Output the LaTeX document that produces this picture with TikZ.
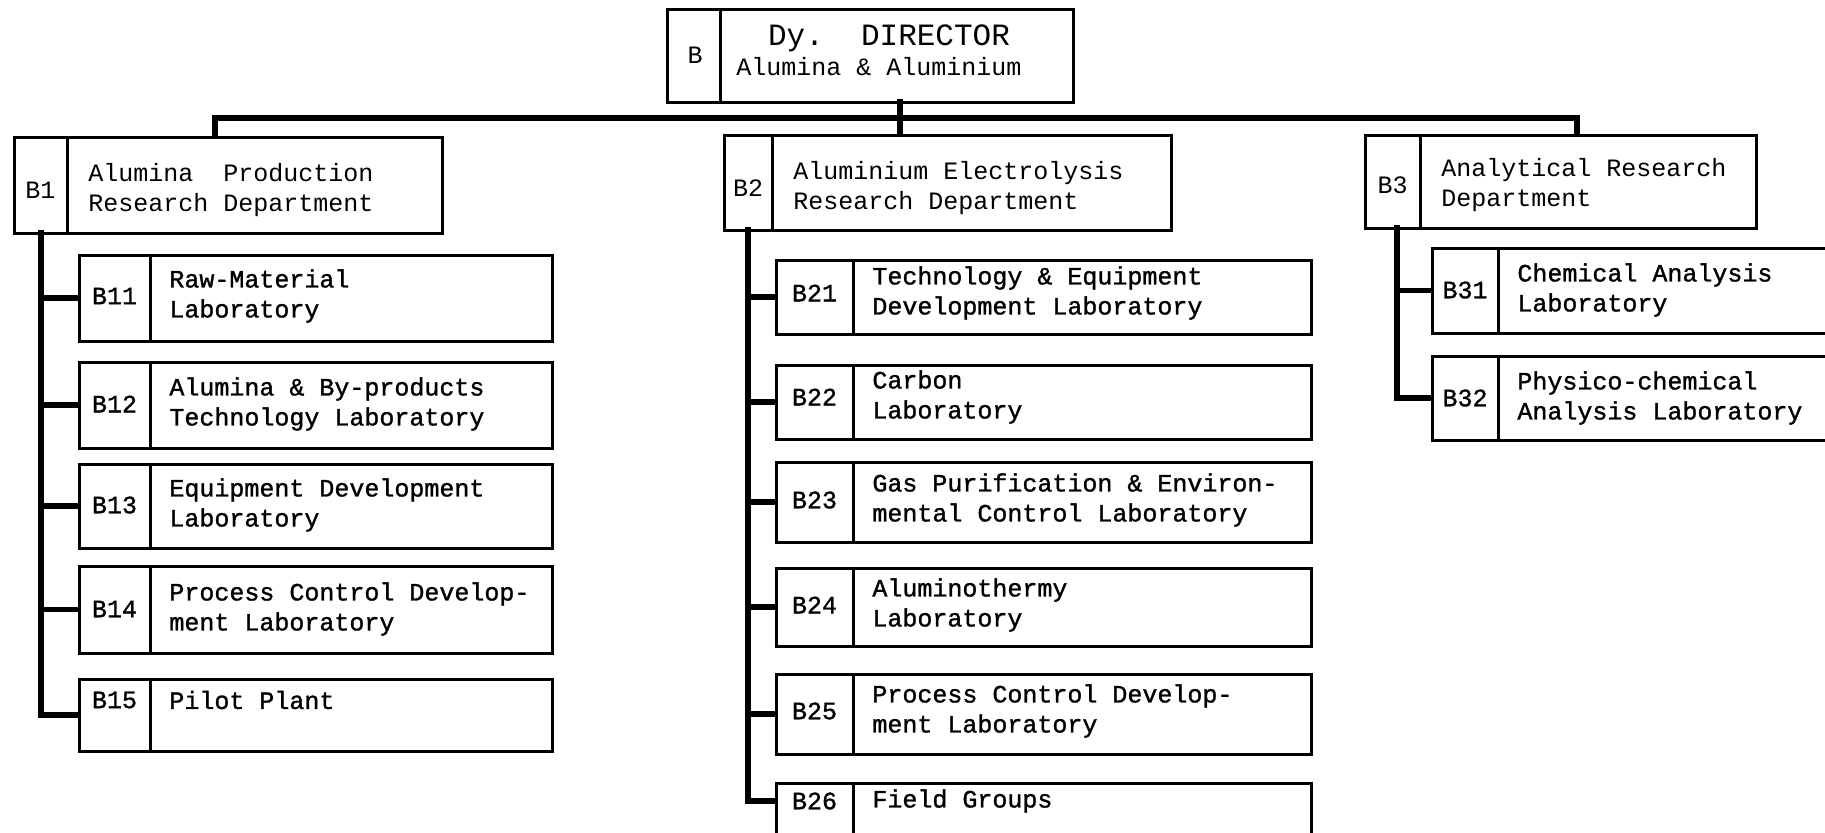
\documentclass[tikz,border=0pt]{standalone}
\usepackage{fontspec}
\setmonofont{Liberation Mono}
\newfontfamily\labfont[FakeBold=1.2]{Liberation Mono}
\usetikzlibrary{fit}
\tikzset{
  boxst/.style={draw, line width=1.5pt, inner sep=0pt, fill=white},
  divline/.style={line width=1.5pt},
  conn/.style={line width=2.6pt, line cap=rect},
  lab/.style={font=\labfont\fontsize{12.5}{15}\selectfont, inner sep=0pt},
  txt/.style={font=\labfont\fontsize{12.5}{15}\selectfont, inner sep=0pt, align=left, anchor=west},
  toptxt/.style={font=\ttfamily\fontsize{12.5}{15}\selectfont, inner sep=0pt},
}
% #1 name, #2 x1, #3 y1, #4 x2, #5 y2, #6 xdiv, #7 label, #8 text, #9 text row y
\newcommand\orgbox[9]{%
  \node[boxst, fit={(#2,#3)(#4,#5)}] (#1) {};
  \draw[divline] (#6,#3) -- (#6,#5);
  \node[lab] (#1l) at ({(#2+#6)/2},#9) {#7};
  \node[txt] (#1t) at ({#6+19},#9) {#8};
}
\newcommand\deptbox[9]{%
  \node[boxst, fit={(#2,#3)(#4,#5)}] (#1) {};
  \draw[divline] (#6,#3) -- (#6,#5);
  \node[toptxt] (#1l) at ({(#2+#6)/2},#9) {#7};
  \node[toptxt, align=left, anchor=west] (#1t) at ({#6+21},#9) {#8};
}
\begin{document}
\begin{tikzpicture}[x=0.5pt,y=-0.5pt]
\clip (0,0) rectangle (1825,832);
\fill[white] (0,0) rectangle (1825,832);
\coordinate (bus) at (0,118);
\coordinate (s1) at (41,233);
\coordinate (s2) at (748,230);
\coordinate (s3) at (1397,228);
% top box
\node[boxst, fit={(667,9)(1073,102)}] (B) {};
\draw[divline] (720,9) -- (720,102);
\node[toptxt] (Bl) at (695,55) {B};
\node[toptxt, font=\ttfamily\fontsize{15.5}{18}\selectfont] (Bt1) at (889,38) {Dy.~~DIRECTOR};
\node[toptxt] (Bt2) at (879,67) {Alumina \& Aluminium};
\coordinate (Bd) at (900,102);
% departments
\deptbox{B1}{14}{137}{442}{233}{67}{B1}{Alumina~~Production\\Research Department}{190}
\deptbox{B2}{724}{135}{1171}{230}{772}{B2}{Aluminium Electrolysis\\Research Department}{188}
\deptbox{B3}{1365}{135}{1756}{228}{1420}{B3}{Analytical Research\\Department}{185}
% bus
\draw[conn] (Bd) -- (Bd |- B2.north);
\draw[conn] (B1.north -| 215,0) |- (bus -| 900,0) -| (B3.north -| 1577,0);
% B1 labs
\orgbox{B11}{79}{255}{552}{341}{150}{B11}{Raw-Material\\Laboratory}{296}
\orgbox{B12}{79}{362}{552}{448}{150}{B12}{Alumina \& By-products\\Technology Laboratory}{404}
\orgbox{B13}{79}{464}{552}{548}{150}{B13}{Equipment Development\\Laboratory}{505}
\orgbox{B14}{79}{566}{552}{653}{150}{B14}{Process Control Develop-\\ment Laboratory}{609}
\orgbox{B15}{79}{679}{552}{751}{150}{B15}{Pilot Plant}{700}
% B2 labs
\orgbox{B21}{776}{260}{1311}{334}{853}{B21}{Technology \& Equipment\\Development Laboratory}{293}
\orgbox{B22}{776}{365}{1311}{439}{853}{B22}{Carbon\\Laboratory}{397}
\orgbox{B23}{776}{462}{1311}{542}{853}{B23}{Gas Purification \& Environ-\\mental Control Laboratory}{500}
\orgbox{B24}{776}{568}{1311}{646}{853}{B24}{Aluminothermy\\Laboratory}{605}
\orgbox{B25}{776}{674}{1311}{754}{853}{B25}{Process Control Develop-\\ment Laboratory}{711}
\orgbox{B26}{776}{783}{1311}{850}{853}{B26}{Field Groups}{801}
% B3 labs
\orgbox{B31}{1432}{248}{1835}{333}{1498}{B31}{Chemical Analysis\\Laboratory}{290}
\orgbox{B32}{1432}{356}{1835}{440}{1498}{B32}{Physico-chemical\\Analysis Laboratory}{398}
% spines
\draw[conn] (s1) |- (B15.west);
\foreach \n in {B11,B12,B13,B14} \draw[conn] (s1 |- \n.west) -- (\n.west);
\draw[conn] (s2) |- (B26l.west -| B26.west);
\foreach \n in {B21,B22,B23,B24,B25} \draw[conn] (s2 |- \n.west) -- (\n.west);
\draw[conn] (s3) |- (B32.west);
\draw[conn] (s3 |- B31.west) -- (B31.west);
\end{tikzpicture}
\end{document}
